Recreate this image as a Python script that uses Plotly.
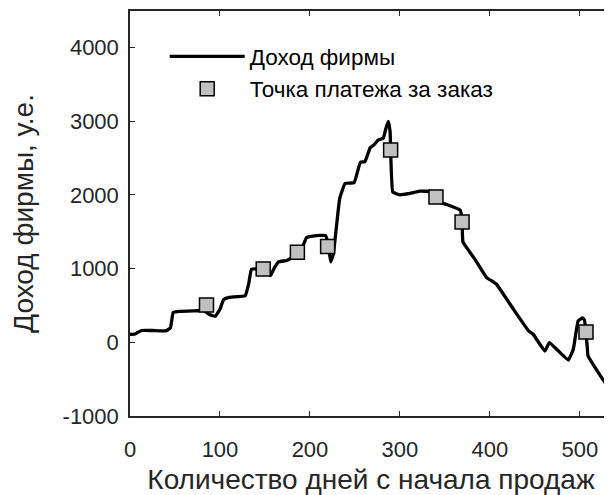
import plotly.graph_objects as go

# Revenue curve (days since start of sales, revenue in c.u.)
days = [0, 5, 13, 25, 40, 45, 48, 55, 72, 82, 88, 92, 95, 100, 104, 110, 128, 132, 135,
        148, 152, 156, 160, 165, 174, 180, 186, 192, 196, 205, 217, 220, 223, 226, 233,
        239, 249, 256, 261, 267, 271, 276, 281.5, 284.4, 287, 289, 292, 300, 311, 322,
        335, 340, 344, 352, 367, 369, 370, 383, 396, 407, 426, 443, 448, 461, 466, 487,
        492.6, 498, 503, 505, 508, 509, 533, 537]
revenue = [109, 110, 160, 160, 155, 200, 405, 420, 427, 430, 380, 360, 355, 450, 580, 610,
           632, 800, 990, 990, 940, 905, 1000, 1090, 1110, 1150, 1200, 1300, 1420, 1445,
           1450, 1350, 1090, 1200, 1950, 2155, 2165, 2442, 2451, 2642, 2678, 2746, 2770,
           2906, 2996, 2860, 2040, 2000, 2019, 2050, 2045, 2000, 1900, 1869, 1791, 1650,
           1360, 1132, 882, 791, 450, 154, 109, -119, -5, -241, -95, 291, 330, 300, -50,
           -186, -641, -700]

# Order payment points
pay_days = [85, 148, 186, 219.6, 289.6, 340, 369, 506.7]
pay_revenue = [505, 996, 1223, 1300, 2610, 1973, 1633, 140]

x_ticks = [0, 100, 200, 300, 400, 500]
y_ticks = [-1000, 0, 1000, 2000, 3000, 4000]

axis_col = "#262626"
font_family = "Arial, Liberation Sans, sans-serif"

fig = go.Figure()
fig.add_trace(go.Scatter(
    x=days, y=revenue, mode="lines", name="Доход фирмы",
    line=dict(color="black", width=3.3, shape="spline", smoothing=0.3),
))
fig.add_trace(go.Scatter(
    x=pay_days, y=pay_revenue, mode="markers", name="Точка платежа за заказ",
    marker=dict(symbol="square", size=14, color="#c0c0c0",
                line=dict(color="black", width=1.5)),
))

# page has an 8px body margin; the figure is sized/margined to compensate
fig.update_layout(
    width=604, height=487,
    margin=dict(l=122, r=0, t=3, b=79, autoexpand=False),
    paper_bgcolor="white", plot_bgcolor="white",
    font=dict(family=font_family, color=axis_col),
    showlegend=True,
    legend=dict(
        x=0.072, y=0.94, xanchor="left", yanchor="top",
        bgcolor="rgba(0,0,0,0)", borderwidth=0,
        font=dict(size=22.5, color="black"),
        itemwidth=75, tracegroupgap=0,
    ),
)
fig.update_xaxes(
    range=[0, 535.6], tickvals=x_ticks, ticktext=[str(v) for v in x_ticks],
    showgrid=False, zeroline=False, automargin=False,
    showline=True, linecolor=axis_col, linewidth=1.5, mirror="ticks",
    ticks="inside", ticklen=5, tickwidth=1.2, tickcolor=axis_col,
    tickfont=dict(size=22, color=axis_col), ticklabelstandoff=13,
    title=dict(text="Количество дней с начала продаж", font=dict(size=28, color=axis_col),
               standoff=12),
)
fig.update_yaxes(
    range=[-1000, 4495], tickvals=y_ticks, ticktext=[str(v) for v in y_ticks],
    showgrid=False, zeroline=False, automargin=False,
    showline=True, linecolor=axis_col, linewidth=1.5,
    ticks="inside", ticklen=5, tickwidth=1.2, tickcolor=axis_col,
    tickfont=dict(size=22, color=axis_col), ticklabelstandoff=5,
    title=dict(text="Доход фирмы, у.е.", font=dict(size=28, color=axis_col), standoff=21),
)

fig.write_html("out.html")
